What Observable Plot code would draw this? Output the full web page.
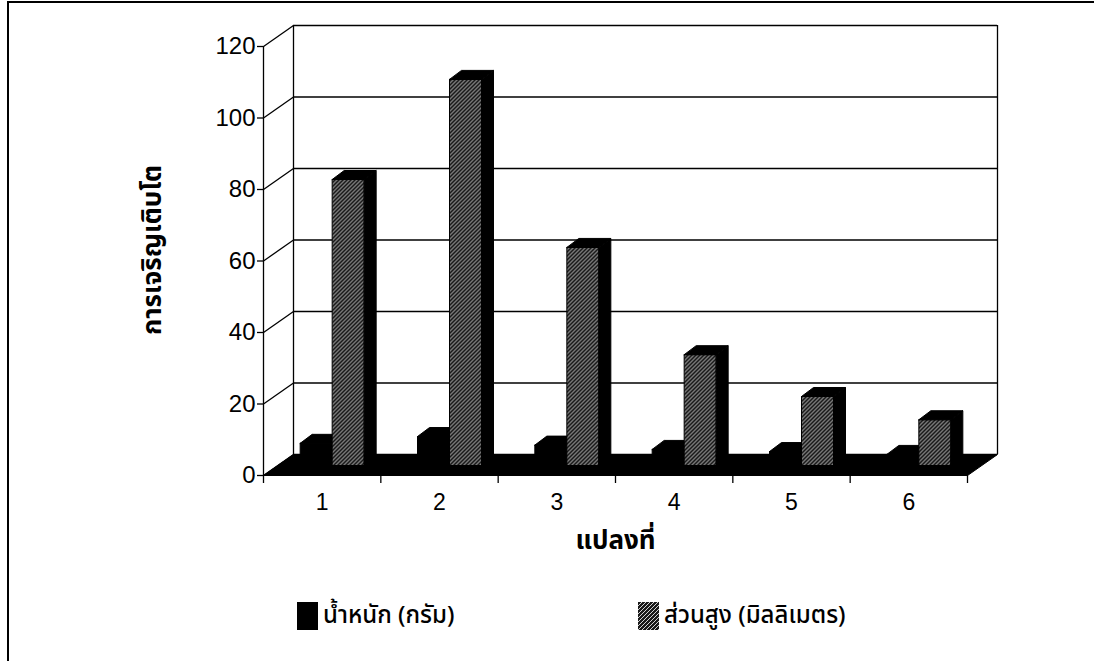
<!DOCTYPE html>
<html>
<head>
<meta charset="utf-8">
<script src="https://cdn.jsdelivr.net/npm/d3@7"></script>
<script src="https://cdn.jsdelivr.net/npm/@observablehq/plot@0.6"></script>
<style>
  html, body { margin: 0; padding: 0; background: #fff; }
  #page { position: relative; width: 1094px; height: 661px; overflow: hidden; }
  #frame { position: absolute; left: 7px; top: 1px; right: -10px; bottom: -10px;
           border-left: 2px solid #000; border-top: 2px solid #000; pointer-events: none; }
  #chart { position: absolute; left: 0; top: 0; }
  #legend { position: absolute; left: 0; top: 580px; width: 1094px; height: 81px;
            font-family: "Noto Sans Thai", Tahoma, "DejaVu Sans", sans-serif; }
  .item { position: absolute; top: 18px; display: flex; align-items: center; font-size: 24px; font-weight: 500; color: #000; }
  .item svg { margin-right: 5px; }
</style>
</head>
<body>
<div id="page">
  <div id="chart"></div>
  <div id="legend"></div>
  <div id="frame"></div>
</div>
<script>
// Plot number, series values and labels
const plotIds = [1, 2, 3, 4, 5, 6];
const weightValues = [6.2, 8.1, 5.7, 4.5, 3.9, 3.1];      // น้ำหนัก (กรัม)
const heightValues = [80, 108, 61, 31, 19.3, 12.8];      // ส่วนสูง (มิลลิเมตร)
const seriesNames = ["น้ำหนัก (กรัม)", "ส่วนสูง (มิลลิเมตร)"];
const yTicks = [0, 20, 40, 60, 80, 100, 120];
const xTitle = "แปลงที่";
const yTitle = "การเจริญเติบโต";

// Plot geometry
const W = 1094, H = 580;
const mL = 263, mR = 127, mT = 46, mB = 105;
const xMax = plotIds.length, yMax = 120;
// pixel -> data-unit converters for the oblique depth offsets
const ux = xMax / (W - mL - mR);
const uy = yMax / (H - mT - mB);
const depthX = p => p * ux;         // pixels to the right
const depthY = p => p * uy;         // pixels upward

// wall / floor depth
const DX = depthX(30), DY = depthY(21);
// bar placement inside the floor depth, bar width and bar depth
const BOX = depthX(10), BOY = depthY(10);
const BW = depthX(32);
const BDX = depthX(12), BDY = depthY(9);

const BLACK = "#000";
const HATCH = "url(#hatch)";
const THAI = "'Noto Sans Thai', Tahoma, 'DejaVu Sans', sans-serif";

// Build the filled faces (polygons) drawn by a single line mark, in painter's order
const faces = [];
let fid = 0;
function poly(pts, fill) {
  const id = fid++;
  [...pts, pts[0]].forEach(([x, y]) => faces.push({id, x, y, fill}));
}
// floor
poly([[0, 0], [xMax, 0], [xMax + DX, DY], [DX, DY]], BLACK);
// bars
plotIds.forEach((p, i) => {
  const c = i + 0.5;
  [[weightValues[i], BLACK, BLACK], [heightValues[i], HATCH, BLACK]].forEach(([v, frontFill, shadeFill], s) => {
    const x0 = c + BOX + (s - 1) * BW, x1 = x0 + BW;
    const b = BOY, t = v + BOY;
    poly([[x0, b], [x1, b], [x1, t], [x0, t]], frontFill);
    poly([[x0, t], [x1, t], [x1 + BDX, t + BDY], [x0 + BDX, t + BDY]], shadeFill);
    poly([[x1, b], [x1 + BDX, b + BDY], [x1 + BDX, t + BDY], [x1, t]], shadeFill);
  });
});

const svg = Plot.plot({
  width: W, height: H,
  marginLeft: mL, marginRight: mR, marginTop: mT, marginBottom: mB,
  x: {domain: [0, xMax], axis: null},
  y: {domain: [0, yMax], axis: null},
  color: {type: "identity"},
  style: {fontFamily: "'Liberation Sans', Arial, sans-serif", background: "#fff", color: "#000", overflow: "visible"},
  marks: [
    // back wall gridlines and edges
    Plot.ruleY(yTicks, {y: d => d + DY, x1: DX, x2: xMax + DX, stroke: "#000", strokeWidth: 1.3}),
    Plot.ruleX([DX, xMax + DX], {y1: DY, y2: yMax + DY, stroke: "#000", strokeWidth: 1.3}),
    // side wall diagonals
    Plot.link(yTicks, {x1: 0, y1: d => d, x2: DX, y2: d => d + DY, stroke: "#000", strokeWidth: 1.3}),
    // front value axis line
    Plot.ruleX([0], {y1: 0, y2: yMax, stroke: "#000", strokeWidth: 1.3}),
    // floor and 3-D columns
    Plot.line(faces, {x: "x", y: "y", z: "id", fill: "fill", stroke: "#000", strokeWidth: 1, strokeLinejoin: "miter"}),
    // value axis ticks and labels
    Plot.axisY(yTicks, {label: null, tickSize: 6, tickFormat: () => "", strokeWidth: 1.3}),
    Plot.text(yTicks, {y: d => d, frameAnchor: "left", dx: -8, textAnchor: "end", text: d => String(d), fontSize: 24}),
    // category boundary ticks
    Plot.axisX(d3.range(0, xMax + 1), {label: null, tickSize: 8, tickFormat: () => "", strokeWidth: 1.3}),
    // category labels
    Plot.text(plotIds, {x: (d, i) => i + 0.5, y: 0, dy: 27, text: d => String(d), fontSize: 23}),
    // axis titles
    Plot.text([xTitle], {x: xMax / 2, y: 0, dy: 65, text: d => d, fontSize: 26, fontWeight: "bold", fontFamily: THAI}),
    Plot.text([yTitle], {frameAnchor: "left", dx: -111, dy: -11, rotate: -90, textAnchor: "middle",
      text: d => d, fontSize: 26, fontWeight: "bold", fontFamily: THAI})
  ]
});

// diagonal hatch fill used by the height columns and their legend swatch
d3.select(svg).insert("defs", ":first-child").html(`
  <pattern id="hatch" patternUnits="userSpaceOnUse" width="4" height="4">
    <rect width="4" height="4" fill="#1a1a1a"></rect>
    <path d="M-1,1 L1,-1 M0,4 L4,0 M3,5 L5,3" stroke="#e8e8e8" stroke-width="0.9"></path>
  </pattern>`);
document.getElementById("chart").appendChild(svg);

// legend below the chart
const legend = d3.select("#legend");
const legendItems = [
  {name: seriesNames[0], fill: BLACK, left: 297},
  {name: seriesNames[1], fill: HATCH, left: 638}
];
legendItems.forEach(d => {
  const item = legend.append("div").attr("class", "item").style("left", d.left + "px");
  const sw = item.append("svg").attr("width", 21).attr("height", 28);
  sw.append("rect").attr("width", 21).attr("height", 28).attr("fill", d.fill);
  item.append("span").text(d.name);
});
</script>
</body>
</html>
